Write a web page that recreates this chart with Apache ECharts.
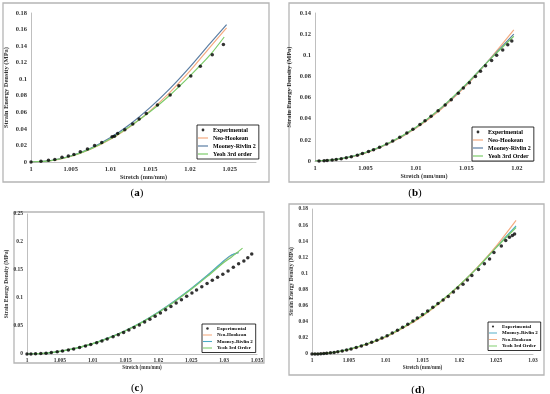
<!DOCTYPE html>
<html><head><meta charset="utf-8">
<script src="https://cdn.jsdelivr.net/npm/echarts@6/dist/echarts.min.js"></script>
<style>html,body{margin:0;padding:0;background:#fff}#c{width:550px;height:394px}</style>
</head><body><div id="c"></div>
<script>
// ---------- Panel (a) ----------
const aExpX = [1.0000,1.00125,1.0022,1.0030,1.0039,1.0047,1.0054,1.0062,1.0071,1.0080,1.0089,1.0102,1.0105,1.0109,1.0118,1.0128,1.0136,1.0145,1.0159,1.0175,1.0186,1.0201,1.0213,1.0228,1.0242];
const aExpY = [0,0.0008,0.002,0.003,0.0056,0.0072,0.009,0.0125,0.0157,0.020,0.0237,0.0305,0.031,0.0345,0.039,0.0458,0.052,0.0586,0.069,0.081,0.092,0.104,0.1157,0.1297,0.1418];
const aLineX = [1,1.0025,1.005,1.0075,1.01,1.0125,1.015,1.0175,1.02,1.0225,1.0246];
const aNeo = [0,0.0015,0.0068,0.0155,0.0275,0.043,0.062,0.0845,0.110,0.1385,0.162];
const aMooney = [0,0.0018,0.0072,0.0165,0.0295,0.046,0.066,0.089,0.115,0.143,0.166];
const aYeohX = [1,1.0025,1.005,1.0075,1.01,1.0125,1.015,1.0175,1.02,1.0225,1.0243];
const aYeoh = [0,0.0017,0.007,0.0158,0.028,0.0435,0.061,0.081,0.104,0.129,0.151];
// ---------- Panel (b) ----------
const bExpX = [1.0004,1.0009,1.0012,1.0017,1.0021,1.0026,1.0031,1.0036,1.0042,1.0047,1.0053,1.0058,1.0064,1.0071,1.0077,1.0084,1.0091,1.0097,1.0104,1.0109,1.0115,1.0122,1.0129,1.0135,1.0142,1.0147,1.0153,1.0159,1.0164,1.0169,1.0175,1.0180,1.0186,1.0191,1.0195];
const bExpY = [0,0.0003,0.0005,0.0009,0.0014,0.0021,0.003,0.004,0.0055,0.007,0.0089,0.0107,0.013,0.016,0.019,0.0225,0.0265,0.030,0.0345,0.038,0.0423,0.0475,0.053,0.058,0.064,0.069,0.074,0.080,0.085,0.090,0.095,0.100,0.105,0.110,0.1135];
const bLineX = [1,1.0025,1.005,1.0075,1.01,1.0125,1.015,1.0175,1.0197];
const bNeo = [0,0.0018,0.0075,0.0172,0.031,0.049,0.0715,0.0985,0.124];
const bMooney = [0,0.002,0.0079,0.0178,0.0318,0.050,0.0725,0.098,0.120];
const bYeoh = [0,0.002,0.008,0.018,0.032,0.0505,0.073,0.0975,0.118];
// ---------- Panel (c) ----------
const cExpX = [1.0000,1.0006,1.0013,1.0021,1.0029,1.0037,1.0046,1.0054,1.0063,1.0071,1.0080,1.0089,1.0097,1.0106,1.0114,1.0122,1.0131,1.0139,1.0147,1.0155,1.0163,1.0171,1.0179,1.0187,1.0195,1.0203,1.0211,1.0219,1.0227,1.0235,1.0243,1.0251,1.0258,1.0266,1.0274,1.0282,1.0290,1.0298,1.0306,1.0314,1.0322,1.0330,1.0336,1.0342];
const cExpY = [0,0.0001,0.0003,0.0008,0.0015,0.0025,0.0038,0.0052,0.0071,0.009,0.0115,0.0142,0.0169,0.020,0.0232,0.0266,0.0306,0.0345,0.0386,0.0429,0.0474,0.052,0.057,0.062,0.0676,0.0733,0.079,0.085,0.091,0.097,0.103,0.109,0.1145,0.120,0.126,0.1315,0.137,0.1425,0.148,0.155,0.161,0.166,0.172,0.1786];
const cLineX = [1,1.0025,1.005,1.0075,1.01,1.0125,1.015,1.0175,1.02,1.0225,1.025,1.0275,1.03,1.031,1.0322];
const cNeo = [0,0.0012,0.0048,0.0106,0.0185,0.029,0.0418,0.0568,0.0745,0.0945,0.1165,0.1405,0.166,0.1755,0.1815];
const cMooney = [0,0.0012,0.0048,0.0106,0.0186,0.0292,0.042,0.057,0.0748,0.095,0.117,0.141,0.167,0.176,0.181];
const cYeohX = [1,1.0025,1.005,1.0075,1.01,1.0125,1.015,1.0175,1.02,1.0225,1.025,1.0275,1.03,1.031,1.0328];
const cYeoh = [0,0.0012,0.0047,0.0105,0.0184,0.0288,0.0415,0.0565,0.074,0.0938,0.1155,0.139,0.164,0.172,0.189];
// ---------- Panel (d) ----------
const dExpX = [1.0000,1.0004,1.0008,1.0012,1.0016,1.0020,1.0025,1.0030,1.0035,1.0041,1.0047,1.0053,1.0060,1.0067,1.0074,1.0081,1.0088,1.0095,1.0102,1.0109,1.0116,1.0123,1.0130,1.0137,1.0143,1.0150,1.0157,1.0164,1.0171,1.0178,1.0185,1.0192,1.0198,1.0205,1.0211,1.0217,1.0226,1.0234,1.0241,1.0247,1.0257,1.0263,1.0268,1.0272,1.0275];
const dExpY = [0,0.00004,0.00014,0.0003,0.0006,0.0009,0.0014,0.002,0.0027,0.0037,0.0049,0.0062,0.008,0.0099,0.012,0.0145,0.017,0.0198,0.0228,0.026,0.0295,0.0332,0.037,0.041,0.0448,0.049,0.0535,0.058,0.0627,0.067,0.0715,0.077,0.082,0.0865,0.092,0.0976,0.105,0.112,0.118,0.126,0.134,0.141,0.145,0.147,0.149];
const dLineX = [1,1.0025,1.005,1.0075,1.01,1.0125,1.015,1.0175,1.02,1.0225,1.025,1.0277];
const dMooney = [0,0.0015,0.0057,0.0125,0.0215,0.0335,0.0478,0.065,0.0852,0.1075,0.1325,0.159];
const dNeo = [0,0.0014,0.0055,0.0122,0.021,0.0328,0.047,0.0645,0.085,0.108,0.134,0.166];
const dYeoh = [0,0.0015,0.0058,0.0127,0.0218,0.0338,0.048,0.0655,0.0855,0.1075,0.132,0.157];

const xTitle = 'Stretch (mm/mm)';
const yTitle = 'Strain Energy Density (MPa)';
const captions = ['a','b','c','d'];

const FONT = '"Liberation Serif","Times New Roman",serif';
const cNeoCol = '#f4ab80', cMoCol = '#5b7ea3', cMoCol2 = '#4bacc6', cYeCol = '#7ccc6a';
const LINE_ICON = 'path://M0,0 M10,0 M10,4 M0,4 M0,1.4 L10,1.4 L10,2.6 L0,2.6 Z';
const DOT_ICON = 'path://M0,0 M10,0 M10,4 M0,4 M5,0.6 A1.4,1.4 0 1,1 4.99,0.6 Z';

const zip = (xs, ys) => xs.map((x, i) => [x, ys[i]]);

function scatter(i, xs, ys) {
  return {name:'Experimental', type:'scatter', xAxisIndex:i, yAxisIndex:i, data:zip(xs, ys),
    symbolSize:3.5, itemStyle:{color:'#000'}, z:5};
}
function line(i, name, xs, ys, color) {
  return {name, type:'line', xAxisIndex:i, yAxisIndex:i, data:zip(xs, ys), smooth:0.3,
    symbol:'none', showSymbol:false, lineStyle:{color, width:1.2}, itemStyle:{color}};
}
function legend(left, top, names, colors, fs, iw, gap) {
  return {left, top, orient:'vertical', itemWidth:iw, itemHeight:iw * 0.4, itemGap:gap,
    padding:[2,3,2,1], borderColor:'#000', borderWidth:0.8, backgroundColor:'#fff',
    textStyle:{fontFamily:FONT, fontWeight:'bold', fontSize:fs, color:'#000'},
    data:names.map((n, k) => k === 0 ? {name:n, icon:DOT_ICON, itemStyle:{color:'#000'}} :
      {name:n, icon:LINE_ICON, itemStyle:{color:colors[k], borderWidth:0}})};
}
function xAxis(i, max, fs, gap, showMax) {
  return {type:'value', gridIndex:i, min:1, max, interval:0.005, name:xTitle, nameLocation:'middle', nameGap:gap,
    nameTextStyle:{fontFamily:FONT, fontWeight:'bold', fontSize:fs - 0.3, color:'#333'},
    axisLine:{lineStyle:{color:'#bfbfbf', width:1}}, axisTick:{show:false}, splitLine:{show:false},
    axisLabel:{fontFamily:FONT, fontWeight:'bold', fontSize:fs, color:'#333', margin:4, showMaxLabel:showMax}};
}
function yAxis(i, max, interval, fs, gap) {
  return {type:'value', gridIndex:i, min:0, max, interval, name:yTitle, nameLocation:'middle', nameGap:gap, nameRotate:90,
    nameTextStyle:{fontFamily:FONT, fontWeight:'bold', fontSize:fs, color:'#333'},
    axisLine:{show:true, lineStyle:{color:'#bfbfbf', width:1}}, axisTick:{show:false}, splitLine:{show:false},
    axisLabel:{fontFamily:FONT, fontWeight:'bold', fontSize:fs, color:'#333', margin:4}};
}
function box(x, y, w, h) {
  return {type:'rect', shape:{x, y, width:w, height:h}, style:{fill:'none', stroke:'#b5b5b5', lineWidth:1.3}, z:-1};
}
function caption(x, y, t) {
  return {type:'text', x, y, style:{text:'{n|(}{b|' + t + '}{n|)}', align:'center', verticalAlign:'middle',
    rich:{n:{fontFamily:FONT, fontSize:11, color:'#000'}, b:{fontFamily:FONT, fontSize:11, fontWeight:'bold', color:'#000'}}}};
}

const chart = echarts.init(document.getElementById('c'), null, {renderer:'canvas'});
chart.setOption({
  animation:false,
  backgroundColor:'#fff',
  grid:[
    {left:31, top:13, width:225, height:149},
    {left:315, top:13, width:218, height:148},
    {left:27, top:214, width:230, height:140},
    {left:312, top:209, width:221, height:145}
  ],
  xAxis:[xAxis(0, 1.0283, 6.5, 8, false), xAxis(1, 1.0216, 6.5, 10, false), xAxis(2, 1.035, 5.5, 8, true), xAxis(3, 1.03, 5.5, 9, true)],
  yAxis:[yAxis(0, 0.18, 0.02, 6.5, 21), yAxis(1, 0.14, 0.02, 6.5, 22), yAxis(2, 0.25, 0.05, 5.5, 13), yAxis(3, 0.18, 0.02, 5.5, 12)],
  legend:[
    legend(197, 125, ['Experimental','Neo-Hookean','Mooney-Rivlin 2','Yeoh 3rd order'], [null,cNeoCol,cMoCol,cYeCol], 6, 10, 2),
    legend(472, 127, ['Experimental','Neo-Hookean','Mooney-Rivlin 2','Yeoh 3rd Order'], [null,cNeoCol,cMoCol,cYeCol], 6, 10, 2),
    legend(202, 324, ['Experimental','Neo-Hookean','Mooney-Rivlin 2','Yeoh 3rd Order'], [null,cNeoCol,cMoCol2,cYeCol], 5, 9, 1.5),
    legend(488, 322, ['Experimental','Mooney-Rivlin 2','Neo-Hookean','Yeoh 3rd Order'], [null,cMoCol2,cNeoCol,cYeCol], 5, 8, 1.5)
  ],
  series:[
    line(0,'Neo-Hookean',aLineX,aNeo,cNeoCol), line(0,'Mooney-Rivlin 2',aLineX,aMooney,cMoCol), line(0,'Yeoh 3rd order',aYeohX,aYeoh,cYeCol), scatter(0,aExpX,aExpY),
    line(1,'Neo-Hookean',bLineX,bNeo,cNeoCol), line(1,'Mooney-Rivlin 2',bLineX,bMooney,cMoCol), line(1,'Yeoh 3rd Order',bLineX,bYeoh,cYeCol), scatter(1,bExpX,bExpY),
    line(2,'Neo-Hookean',cLineX,cNeo,cNeoCol), line(2,'Mooney-Rivlin 2',cLineX,cMooney,cMoCol2), line(2,'Yeoh 3rd Order',cYeohX,cYeoh,cYeCol), scatter(2,cExpX,cExpY),
    line(3,'Mooney-Rivlin 2',dLineX,dMooney,cMoCol2), line(3,'Neo-Hookean',dLineX,dNeo,cNeoCol), line(3,'Yeoh 3rd Order',dLineX,dYeoh,cYeCol), scatter(3,dExpX,dExpY)
  ],
  graphic:[
    box(3,3,266,179), box(289,3,255,179), box(14,212,250,151), box(289,204,255,171),
    caption(137,193,captions[0]), caption(415,193,captions[1]), caption(137,388,captions[2]), caption(418,390,captions[3])
  ]
});
</script></body></html>
